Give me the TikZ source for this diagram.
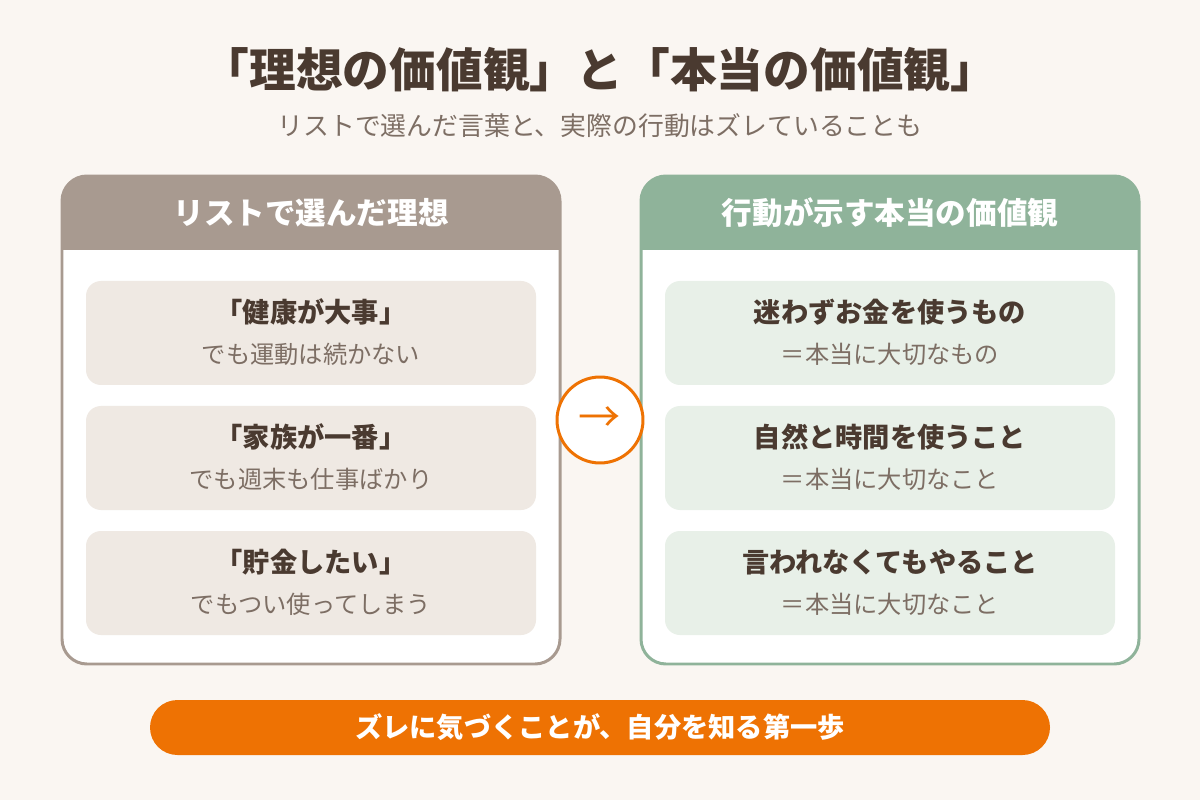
\documentclass[tikz,border=0pt]{standalone}
\usepackage{fontspec}
\setmainfont{Noto Sans CJK JP}
\usetikzlibrary{positioning}
\definecolor{bgcol}{HTML}{FAF6F2}
\definecolor{inkcol}{HTML}{4A3A30}
\definecolor{subcol}{HTML}{7D6E64}
\definecolor{idealcol}{HTML}{A89A90}
\definecolor{idealcard}{HTML}{EFE9E3}
\definecolor{realcol}{HTML}{8FB39A}
\definecolor{realcard}{HTML}{E8F0E8}
\definecolor{accent}{HTML}{EE7203}
\tikzset{
  head/.style={font=\fontsize{17.4}{20}\selectfont\bfseries, text=white},
  cardtitle/.style={font=\fontsize{15.5}{18}\selectfont\bfseries, text=inkcol},
  cardsub/.style={font=\fontsize{13.8}{16}\selectfont, text=subcol},
}
\begin{document}
\begin{tikzpicture}[x=0.02cm,y=-0.02cm]
  \fill[bgcol] (0,0) rectangle (1200,800);
  \useasboundingbox (0,0) rectangle (1200,800);
  % title
  \node[font=\fontsize{26.6}{30}\selectfont\bfseries, text=inkcol] (title) at (600,70) {「理想の価値観」と「本当の価値観」};
  \node[font=\fontsize{14.7}{17}\selectfont, text=subcol] (subtitle) at (600,126) {リストで選んだ言葉と、実際の行動はズレていることも};
  % panels
  \foreach \x/\c/\t in {62/idealcol/リストで選んだ理想, 641/realcol/行動が示す本当の価値観} {
    \fill[white, rounded corners=0.5cm] (\x,176) rectangle ++(498,488);
    \fill[\c] (\x,250) [rounded corners=0.5cm] -- (\x,176) -- (\x+498,176) [sharp corners] -- (\x+498,250) -- cycle;
    \draw[\c, line width=1.7pt, rounded corners=0.5cm] (\x,176) rectangle ++(498,488);
    \node[head] at (\x+249,213) {\t};
  }
  % ideal cards
  \foreach \y/\a/\b [count=\i] in {281/「健康が大事」/でも運動は続かない, 406/「家族が一番」/でも週末も仕事ばかり, 531/「貯金したい」/でもつい使ってしまう} {
    \fill[idealcard, rounded corners=0.3cm] (86,\y) rectangle ++(450,104);
    \node[cardtitle] (ideal\i) at (311,\y+31) {\a};
    \node[cardsub] (idealsub\i) at (311,\y+73) {\b};
  }
  % real cards
  \foreach \y/\a/\b [count=\i] in {281/迷わずお金を使うもの/＝本当に大切なもの, 406/自然と時間を使うこと/＝本当に大切なこと, 531/言われなくてもやること/＝本当に大切なこと} {
    \fill[realcard, rounded corners=0.3cm] (665,\y) rectangle ++(450,104);
    \node[cardtitle] (real\i) at (890,\y+31) {\a};
    \node[cardsub] (realsub\i) at (890,\y+73) {\b};
  }
  % arrow circle
  \node[circle, draw=accent, line width=1.7pt, fill=white, minimum size=1.72cm, inner sep=0pt, text=accent,
        font=\fontsize{24}{26}\selectfont] (turn) at (600,420) {→};
  % bottom bar
  \fill[accent, rounded corners=0.55cm] (150,700) rectangle (1050,755);
  \node[font=\fontsize{15.5}{18}\selectfont\bfseries, text=white] (lesson) at (600,727) {ズレに気づくことが、自分を知る第一歩};
\end{tikzpicture}
\end{document}
